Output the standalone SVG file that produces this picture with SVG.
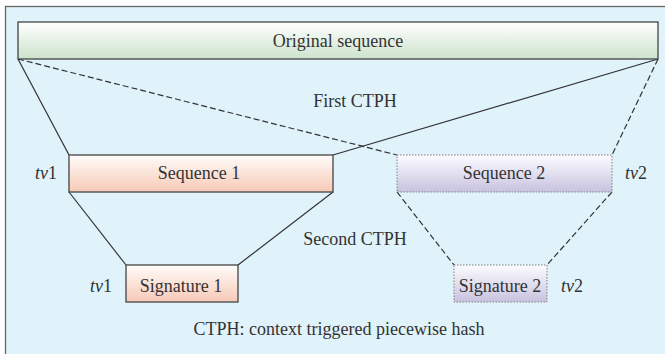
<svg xmlns="http://www.w3.org/2000/svg" width="665" height="354" viewBox="0 0 665 354">
  <defs>
    <linearGradient id="gGreen" x1="0" y1="0" x2="0" y2="1">
      <stop offset="0" stop-color="#ffffff"/>
      <stop offset="1" stop-color="#cde3cd"/>
    </linearGradient>
    <linearGradient id="gPeach" x1="0" y1="0" x2="0" y2="1">
      <stop offset="0" stop-color="#fffcfa"/>
      <stop offset="1" stop-color="#f7c9b6"/>
    </linearGradient>
    <linearGradient id="gLav" x1="0" y1="0" x2="0" y2="1">
      <stop offset="0" stop-color="#fcfcff"/>
      <stop offset="1" stop-color="#c8c2df"/>
    </linearGradient>
  </defs>
  <style>
    text { font-size: 18px; fill: #333333; }
    .c { text-anchor: middle; }
    .solid { stroke: #333333; stroke-width: 1.2; fill: none; }
    .dash { stroke: #333333; stroke-width: 1.2; fill: none; stroke-dasharray: 6 3; }
    .boxA { stroke: #444444; stroke-width: 1.3; }
    .boxB { stroke: #808080; stroke-width: 1; stroke-dasharray: 1.5 1.5; }
    .it { font-style: italic; }
  </style>
  <rect x="0" y="0" width="665" height="354" fill="#ffffff"/>
  <rect x="5.5" y="6.5" width="680" height="370" fill="#e0f2fa" stroke="#666666" stroke-width="1.3"/>

  <g id="connectors">
    <line class="solid" x1="18" y1="59" x2="69" y2="155"/>
    <line class="dash" x1="18" y1="59" x2="397" y2="155"/>
    <line class="solid" x1="658" y1="59" x2="333" y2="155"/>
    <line class="dash" x1="658" y1="59" x2="612" y2="155"/>
    <line class="solid" x1="69" y1="192" x2="126" y2="265"/>
    <line class="solid" x1="333" y1="192" x2="238" y2="265"/>
    <line class="dash" x1="397" y1="192" x2="454" y2="265"/>
    <line class="dash" x1="612" y1="192" x2="547" y2="265"/>
  </g>

  <g font-family="Liberation Serif, Times New Roman, Times, DejaVu Serif, serif">
  <g id="original">
    <rect class="boxA" x="18" y="22" width="640" height="37" fill="url(#gGreen)"/>
    <text class="c" x="338" y="47">Original sequence</text>
  </g>

  <g id="seq1">
    <rect class="boxA" x="69" y="155" width="264" height="37" fill="url(#gPeach)"/>
    <text class="c" x="199" y="179">Sequence 1</text>
  </g>

  <g id="seq2">
    <rect class="boxB" x="397" y="155" width="215" height="37" fill="url(#gLav)"/>
    <text class="c" x="504" y="179">Sequence 2</text>
  </g>

  <g id="sig1">
    <rect class="boxA" x="126" y="265" width="112" height="37" fill="url(#gPeach)"/>
    <text class="c" x="181" y="292">Signature 1</text>
  </g>

  <g id="sig2">
    <rect class="boxB" x="454" y="265" width="93" height="37" fill="url(#gLav)"/>
    <text class="c" x="500" y="292">Signature 2</text>
  </g>

  <g id="labels">
    <text class="c" x="355" y="107">First CTPH</text>
    <text class="c" x="355" y="245">Second CTPH</text>
    <text x="35" y="179"><tspan class="it">tv</tspan>1</text>
    <text x="625" y="179"><tspan class="it">tv</tspan>2</text>
    <text x="90" y="292"><tspan class="it">tv</tspan>1</text>
    <text x="561" y="292"><tspan class="it">tv</tspan>2</text>
    <text class="c" x="339" y="335">CTPH: context triggered piecewise hash</text>
  </g>
  </g>
</svg>
